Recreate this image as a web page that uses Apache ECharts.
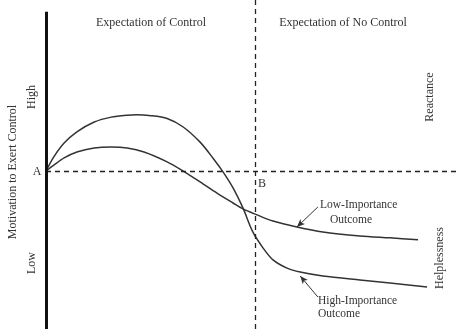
<!DOCTYPE html>
<html lang="en">
  <head>
    <meta charset="UTF-8" />
    <title>Motivation to Exert Control</title>
    <script src="https://cdn.jsdelivr.net/npm/echarts@6/dist/echarts.min.js"></script>
    <style>
      html, body { margin: 0; padding: 0; background: #fff; }
      .echarts { width: 458px; height: 329px; }
    </style>
  </head>
  <body>
    <div class="echarts"></div>
    <script>
      // curves, x: 0-100 across, y: 0-100 up
      const highImportance = [
        [0, 48.0], [1.9, 52.3], [4.4, 56.5], [7.5, 59.9], [11.7, 62.9], [15.8, 64.4],
        [19.7, 65.0], [22.1, 65.1], [25.0, 64.9], [29.4, 64.0], [33.3, 61.4], [37.4, 56.8], [40.5, 52.0],
        [43.0, 47.7], [45.4, 42.9], [47.8, 36.8], [50.2, 29.5], [52.7, 24.6], [55.1, 21.0],
        [58.5, 18.5], [61.7, 17.3], [67.2, 16.1], [76.2, 14.9], [83.5, 14.0], [92.5, 12.8]
      ]
      const lowImportance = [
        [0, 48.0], [1.9, 49.8], [4.4, 52.0], [7.5, 53.8], [11.7, 55.0], [15.8, 55.3],
        [19.7, 55.0], [23.8, 53.8], [29.4, 50.8], [33.3, 48.0], [37.4, 44.7], [41.5, 41.3],
        [45.4, 38.3], [47.8, 36.5], [51.2, 34.7], [55.1, 32.8], [60.9, 31.0], [67.2, 29.5],
        [76.2, 28.3], [83.5, 27.7], [90.3, 27.1]
      ]
      const pointA = [0, 48.0]
      const pointBx = 50.7
      const axisTop = 96.4
      // arrows from the labels to the curves
      const lowArrow = [[66.0, 37.1], [60.9, 31.0]]
      const highArrow = [[66.0, 9.7], [61.7, 16.1]]

      const ink = '#333'
      const font = 'Liberation Serif'

      const myCharts = echarts.init(document.querySelector('.echarts'))

      const txt = (x, y, text, rot, align, size) => ({
        type: 'text', x: x, y: y, rotation: rot || 0,
        style: {
          text: text, fill: ink, font: (size || 12) + 'px "' + font + '"',
          align: align || 'center', verticalAlign: 'middle'
        }
      })

      const option = {
        animation: false,
        grid: { left: 46, right: 0, top: 0, bottom: 0 },
        xAxis: {
          type: 'value', min: 0, max: 100,
          axisLine: { show: false }, axisTick: { show: false },
          axisLabel: { show: false }, splitLine: { show: false }
        },
        yAxis: {
          type: 'value', min: 0, max: 100,
          axisLine: { show: false }, axisTick: { show: false },
          axisLabel: { show: false }, splitLine: { show: false }
        },
        series: [
          {
            name: 'High-Importance Outcome', type: 'line', data: highImportance,
            smooth: 0.3, symbol: 'none', clip: false,
            lineStyle: { color: ink, width: 1.5, join: 'round' },
            markLine: {
              silent: true, symbol: 'none', label: { show: false },
              lineStyle: { color: '#222', type: [5, 4], width: 1.3 },
              data: [
                [{ coord: [pointA[0], pointA[1]] }, { coord: [100, pointA[1]] }],
                [{ coord: [pointBx, 0] }, { coord: [pointBx, 100] }]
              ]
            }
          },
          {
            name: 'Low-Importance Outcome', type: 'line', data: lowImportance,
            smooth: 0.3, symbol: 'none', clip: false,
            lineStyle: { color: ink, width: 1.5, join: 'round' },
            markLine: {
              silent: true, label: { show: false },
              symbol: ['none', 'arrow'], symbolSize: [5, 8],
              lineStyle: { color: ink, type: 'solid', width: 1 },
              data: [
                [{ coord: lowArrow[0] }, { coord: lowArrow[1] }],
                [{ coord: highArrow[0] }, { coord: highArrow[1] }]
              ]
            }
          },
          {
            // the thick left axis
            type: 'line', data: [], symbol: 'none',
            markLine: {
              silent: true, symbol: 'none', label: { show: false },
              lineStyle: { color: '#111', type: 'solid', width: 3 },
              data: [[{ coord: [0, 0] }, { coord: [0, axisTop] }]]
            }
          }
        ],
        graphic: [
          txt(151, 23, 'Expectation of Control'),
          txt(343, 23, 'Expectation of No Control'),
          txt(13, 172, 'Motivation to Exert Control', Math.PI / 2),
          txt(32, 97, 'High', Math.PI / 2),
          txt(32, 263, 'Low', Math.PI / 2),
          txt(430, 97, 'Reactance', Math.PI / 2),
          txt(440, 258, 'Helplessness', Math.PI / 2),
          txt(37, 172, 'A'),
          txt(262, 184, 'B'),
          txt(320, 205, 'Low-Importance', 0, 'left', 11.5),
          txt(330, 220, 'Outcome', 0, 'left', 11.5),
          txt(318, 301, 'High-Importance', 0, 'left', 11.5),
          txt(318, 314, 'Outcome', 0, 'left', 11.5)
        ]
      }
      myCharts.setOption(option)
    </script>
  </body>
</html>
